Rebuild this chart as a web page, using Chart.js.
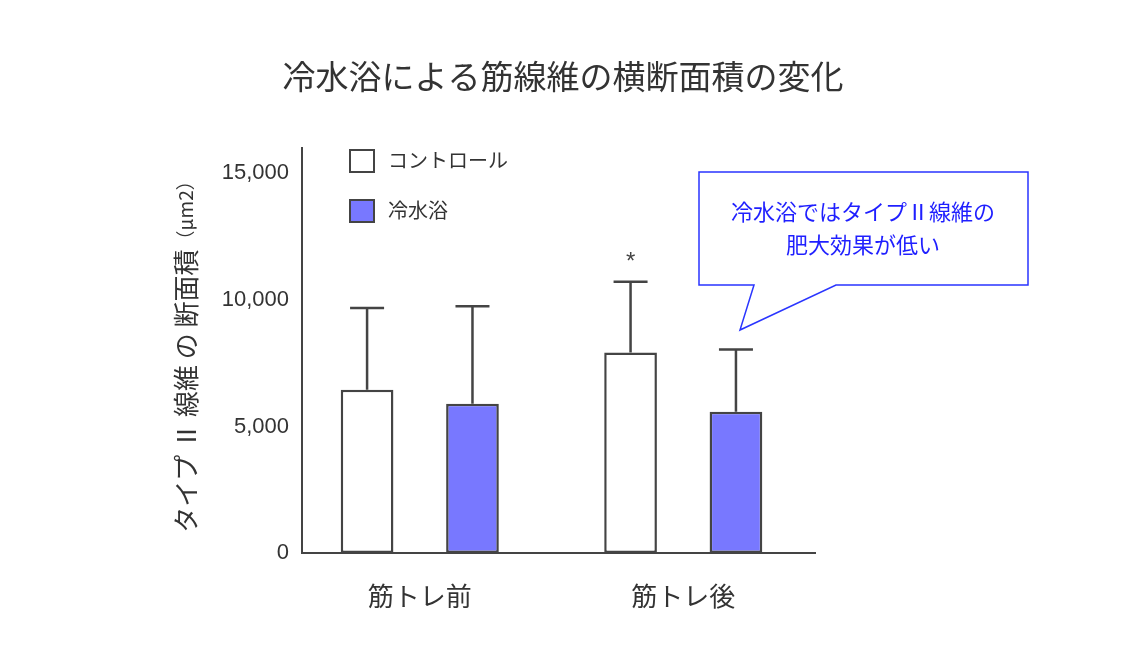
<!DOCTYPE html>
<html lang="ja">
<head>
<meta charset="utf-8">
<title>冷水浴による筋線維の横断面積の変化</title>
<script src="https://cdn.jsdelivr.net/npm/chart.js@4.4.1/dist/chart.umd.min.js"></script>
<style>
    html, body { margin: 0; padding: 0; background: #fff; }
    #wrap { width: 1128px; height: 656px; }
</style>
</head>
<body>
<div id="wrap"><canvas id="fiberChart" width="1128" height="656"></canvas></div>
<script>
// ========================
// データ
// ========================
const chartTitle = '冷水浴による筋線維の横断面積の変化';
const categories = ['筋トレ前', '筋トレ後'];
const seriesNames = ['コントロール', '冷水浴'];
const controlMean = [6450, 7920];
const coldMean = [5900, 5580];
// エラーバー上端（平均＋SD）
const controlErrTop = [9680, 10720];
const coldErrTop = [9750, 8040];
const controlMarks = ['', '*'];
const coldMarks = ['', ''];
const yTicks = [0, 5000, 10000, 15000];
const calloutLines = ['冷水浴ではタイプⅡ線維の', '肥大効果が低い'];

const JP_FONT = '"Noto Sans CJK JP", "Noto Sans", sans-serif';
const NUM_FONT = '"Liberation Sans", Arial, sans-serif';
const TEXT = '#333333';
const AXIS = '#444444';

const toPoints = arr => arr.map((v, i) => ({ x: i, y: v }));

// エラーバーと有意差マーク
const errorBarPlugin = {
    id: 'errorBars',
    afterDatasetsDraw(chart) {
        const ctx = chart.ctx;
        const y = chart.scales.y;
        const tops = [controlErrTop, coldErrTop];
        const marks = [controlMarks, coldMarks];
        ctx.save();
        ctx.strokeStyle = AXIS;
        ctx.lineWidth = 2.5;
        chart.data.datasets.forEach((ds, di) => {
            const meta = chart.getDatasetMeta(di);
            meta.data.forEach((bar, i) => {
                const yTop = y.getPixelForValue(tops[di][i]);
                ctx.beginPath();
                ctx.moveTo(bar.x, bar.y);
                ctx.lineTo(bar.x, yTop);
                ctx.moveTo(bar.x - 17, yTop);
                ctx.lineTo(bar.x + 17, yTop);
                ctx.stroke();
                if (marks[di][i]) {
                    ctx.fillStyle = AXIS;
                    ctx.font = '24px ' + NUM_FONT;
                    ctx.textAlign = 'center';
                    ctx.textBaseline = 'middle';
                    ctx.fillText(marks[di][i], bar.x, yTop - 19);
                }
            });
        });
        ctx.restore();
    }
};

// 凡例（グラフ内左上、縦並び）
const legendPlugin = {
    id: 'innerLegend',
    afterDraw(chart) {
        const ctx = chart.ctx;
        const area = chart.chartArea;
        ctx.save();
        chart.data.datasets.forEach((ds, i) => {
            const bx = area.left + 48;
            const by = area.top + 2 + i * 50;
            ctx.fillStyle = ds.backgroundColor;
            ctx.fillRect(bx, by, 24, 22);
            ctx.strokeStyle = AXIS;
            ctx.lineWidth = 2;
            ctx.strokeRect(bx, by, 24, 22);
            ctx.fillStyle = TEXT;
            ctx.font = '20px ' + JP_FONT;
            ctx.textAlign = 'left';
            ctx.textBaseline = 'middle';
            ctx.fillText(ds.label, bx + 38, by + 10);
        });
        ctx.restore();
    }
};

// タイトルと縦軸タイトル（単位は小さめ）
const titlesPlugin = {
    id: 'titles',
    afterDraw(chart) {
        const ctx = chart.ctx;
        ctx.save();
        ctx.fillStyle = TEXT;
        ctx.font = '33px ' + JP_FONT;
        ctx.textAlign = 'center';
        ctx.textBaseline = 'middle';
        ctx.fillText(chartTitle, 563, 76);

        const main = 'タイプ Ⅱ 線維 の 断面積';
        const unit = '（μm2）';
        ctx.translate(186, 352);
        ctx.rotate(-Math.PI / 2);
        ctx.textBaseline = 'middle';
        ctx.font = '26px ' + JP_FONT;
        const w1 = ctx.measureText(main).width;
        ctx.font = '19px ' + JP_FONT;
        const w2 = ctx.measureText(unit).width;
        const start = -(w1 + w2) / 2;
        ctx.textAlign = 'left';
        ctx.font = '26px ' + JP_FONT;
        ctx.fillText(main, start, 0);
        ctx.font = '19px ' + JP_FONT;
        ctx.fillText(unit, start + w1, 0);
        ctx.restore();
    }
};

// 吹き出し
const calloutPlugin = {
    id: 'callout',
    afterDraw(chart) {
        const ctx = chart.ctx;
        ctx.save();
        ctx.strokeStyle = '#2a35ff';
        ctx.lineWidth = 1.5;
        ctx.fillStyle = '#ffffff';
        ctx.beginPath();
        ctx.moveTo(699, 172);
        ctx.lineTo(1028, 172);
        ctx.lineTo(1028, 285);
        ctx.lineTo(836, 285);
        ctx.lineTo(740, 330);
        ctx.lineTo(754, 285);
        ctx.lineTo(699, 285);
        ctx.closePath();
        ctx.fill();
        ctx.stroke();
        ctx.fillStyle = '#1f1fff';
        ctx.font = '22px ' + JP_FONT;
        ctx.textAlign = 'center';
        ctx.textBaseline = 'middle';
        calloutLines.forEach((t, i) => ctx.fillText(t, 863, 212 + i * 33));
        ctx.restore();
    }
};

const config = {
    type: 'bar',
    data: {
        datasets: [{
            label: seriesNames[0],
            data: toPoints(controlMean),
            backgroundColor: '#ffffff',
            borderColor: AXIS,
            borderWidth: 2.5,
            borderSkipped: false
        }, {
            label: seriesNames[1],
            data: toPoints(coldMean),
            backgroundColor: '#7878ff',
            borderColor: AXIS,
            borderWidth: 2.5,
            borderSkipped: false
        }]
    },
    options: {
        responsive: false,
        animation: false,
        devicePixelRatio: 1,
        categoryPercentage: 0.8,
        barPercentage: 0.5,
        layout: { padding: { left: 0, top: 148, right: 313, bottom: 0 } },
        plugins: {
            legend: { display: false },
            tooltip: { enabled: false },
            title: { display: false }
        },
        scales: {
            x: {
                type: 'linear',
                offset: false,
                min: -0.447,
                max: 1.5,
                grid: { display: false, drawTicks: false, offset: false },
                border: { display: true, color: AXIS, width: 2 },
                afterBuildTicks: scale => { scale.ticks = categories.map((c, i) => ({ value: i })); },
                afterFit: scale => { scale.height = 103; },
                ticks: {
                    padding: 28,
                    color: TEXT,
                    font: { family: JP_FONT, size: 26 },
                    maxRotation: 0,
                    callback: v => categories[v]
                }
            },
            y: {
                min: 0,
                max: 16000,
                grid: { display: false, drawTicks: false },
                border: { display: true, color: AXIS, width: 2 },
                afterBuildTicks: scale => { scale.ticks = yTicks.map(v => ({ value: v })); },
                afterFit: scale => { scale.width = 302; },
                ticks: {
                    padding: 13,
                    color: TEXT,
                    font: { family: NUM_FONT, size: 22 },
                    callback: v => v.toLocaleString('en-US')
                }
            }
        }
    },
    plugins: [errorBarPlugin, legendPlugin, titlesPlugin, calloutPlugin]
};

window.addEventListener('DOMContentLoaded', () => {
    const ctx = document.getElementById('fiberChart').getContext('2d');
    new Chart(ctx, config);
});
</script>
</body>
</html>
